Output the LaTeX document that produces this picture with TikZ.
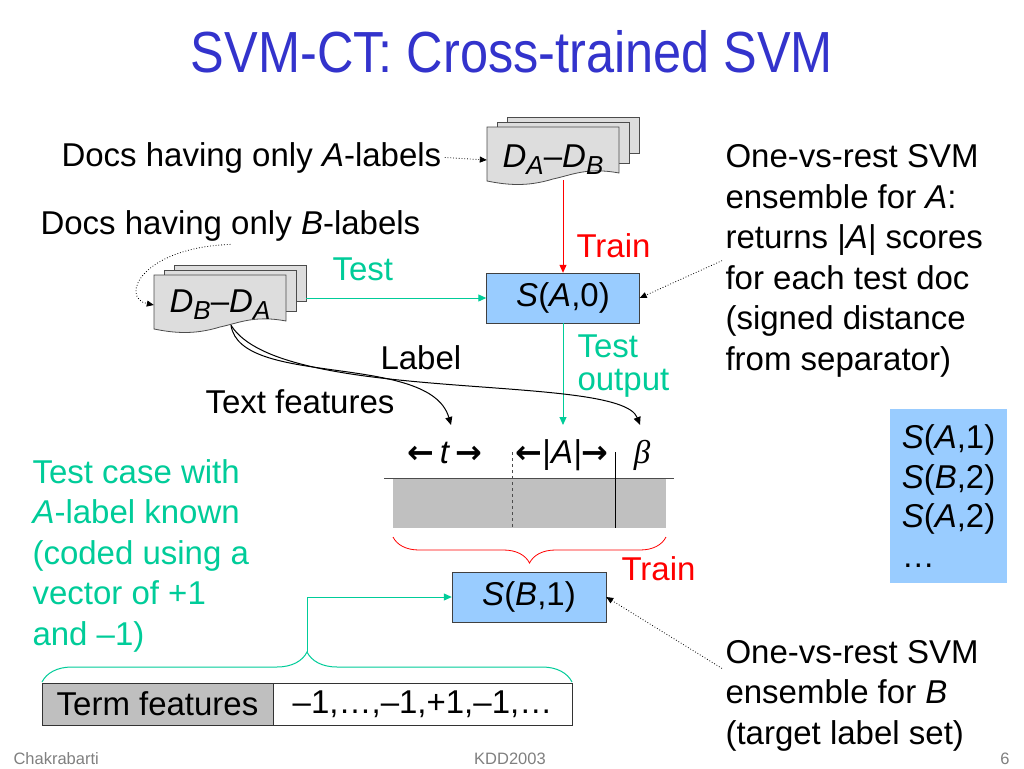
\documentclass[tikz,border=0pt]{standalone}
\usepackage{fontspec}
\setmainfont{Liberation Sans}
\newfontfamily\titlefont[FakeStretch=0.87]{Liberation Sans}
\newfontfamily\arrowfont{DejaVu Sans}
\newfontfamily\greekfont{Liberation Serif}
\usetikzlibrary{calc,arrows.meta,decorations.pathreplacing}

\definecolor{titleblue}{HTML}{3333CC}
\definecolor{testgreen}{HTML}{00CC99}
\definecolor{trainred}{HTML}{FF0000}
\definecolor{svmblue}{HTML}{99CCFF}
\definecolor{sheetgray}{HTML}{DDDDDD}
\definecolor{bargray}{HTML}{C0C0C0}
\definecolor{footgray}{HTML}{808080}

\newcommand{\lowsub}[1]{\raisebox{-7pt}{\fontsize{26}{26}\selectfont\textit{#1}}}
\newcommand{\harrow}[1]{{\arrowfont\bfseries\fontsize{32}{32}\selectfont#1}}
% three sheets, #1,#2 = top left corner of the front one
\newcommand{\docstack}[2]{%
  \foreach \sh in {2,1}
    \draw[sheet] ({#1+10*\sh},{#2-5*\sh}) rectangle ++(132,{46-5*\sh});
  \draw[sheet] (#1,#2) -- ({#1+132},#2) -- ({#1+132},{#2+46})
    .. controls ({#1+100},{#2+40}) and ({#1+85},{#2+48}) .. ({#1+66},{#2+52})
    .. controls ({#1+40},{#2+60}) and ({#1+20},{#2+58}) .. (#1,{#2+54}) -- cycle;}

\tikzset{
  lbl/.style={font=\fontsize{33}{40.5}\selectfont},
  txt/.style={lbl, align=left},
  sheet/.style={draw=black!70, fill=sheetgray, line width=0.8pt},
  docnode/.style={minimum width=132pt, minimum height=40pt, font=\fontsize{33}{40}\selectfont},
  svmbox/.style={draw=black!75, fill=svmblue, minimum width=153pt, minimum height=50pt, font=\fontsize{33}{40}\selectfont},
  cell/.style={draw=black!80, minimum height=42pt, font=\fontsize{33}{40}\selectfont},
  flow/.style={line width=1pt, -{Triangle[length=8pt,width=7pt]}},
  note/.style={line width=0.8pt, dotted, -{Triangle[length=7pt,width=6pt]}},
  foot/.style={font=\fontsize{16.5}{16.5}\selectfont, text=footgray}
}

\begin{document}
\begin{tikzpicture}[x=1pt,y=-1pt]
    \fill[white] (0,0) rectangle (1024,768);
    \useasboundingbox (0,0) rectangle (1024,768);
    \node[font=\titlefont\fontsize{58}{58}\selectfont, text=titleblue, anchor=base] (title) at (512,72) {SVM-CT: Cross-trained SVM};

    % document stacks
    \docstack{487}{127}
    \docstack{154}{275}
    \node[docnode] (dab) at (553,160) {\textit{D}\lowsub{A}--\textit{D}\lowsub{B}};
    \node[docnode] (dba) at (220,305) {\textit{D}\lowsub{B}--\textit{D}\lowsub{A}};

    % classifiers
    \node[svmbox] (sa0) at (563,298) {\textit{S}(\textit{A},0)};
    \node[svmbox, minimum width=154pt] (sb1) at (529,597) {\textit{S}(\textit{B},1)};
    \node[fill=svmblue, minimum width=117pt, minimum height=174pt, align=left, font=\fontsize{33}{39.5}\selectfont] (queue) at (948.5,496) {\textit{S}(\textit{A},1)\\\textit{S}(\textit{B},2)\\\textit{S}(\textit{A},2)\\\dots};

    % texts (base = last line)
    \node[lbl, anchor=base west] (docsA) at (58,166) {Docs having only \textit{A}-labels};
    \node[lbl, anchor=base west] (docsB) at (37,234) {Docs having only \textit{B}-labels};
    \node[txt, anchor=base west] (svmA) at (722,370) {One-vs-rest SVM\\ensemble for \textit{A}:\\returns |\textit{A}| scores\\for each test doc\\(signed distance\\from separator)};
    \node[txt, anchor=base west] (svmB) at (722,744) {One-vs-rest SVM\\ensemble for \textit{B}\\(target label set)};
    \node[txt, text=testgreen, anchor=base west] (testcase) at (29,645) {Test case with\\\textit{A}-label known\\(coded using a\\vector of +1\\and --1)};
    \node[lbl, text=trainred, anchor=base west] (trainA) at (573,257) {Train};
    \node[lbl, text=testgreen, anchor=base west] (testA) at (329,280) {Test};
    \node[txt, text=testgreen, anchor=base west, font=\fontsize{33}{33}\selectfont] (testout) at (574,390) {Test\\output};
    \node[lbl, anchor=base west] (labeltxt) at (377,369) {Label};
    \node[lbl, anchor=base west] (textfeat) at (202,413) {Text features};
    \node[lbl, text=trainred, anchor=base west] (trainB) at (618,580) {Train};

    % training vector
    \node[lbl, anchor=base] (tpart) at (445,463) {\harrow{←}\,\textit{t}\,\harrow{→}};
    \node[lbl, anchor=base] (apart) at (562,463) {\harrow{←}|\textit{A|}\harrow{→}};
    \node[lbl, anchor=base] (bpart) at (642,463) {\greekfont\itshape β};
    \fill[bargray] (393,478) rectangle (666,528);
    \draw[line width=1pt, black!70] (384,478) -- (674,478);
    \draw[dashed, black!70, line width=0.8pt] (512,452) -- (512,528);
    \draw[line width=0.8pt] (615,452) -- (615,528);
    \draw[trainred, line width=0.8pt, decorate, decoration={brace, amplitude=26pt, mirror}] (393,537) -- (666,537);

    % test vector
    \draw[testgreen, line width=1pt, decorate, decoration={brace, amplitude=30pt}] (42,682) -- (572,682);
    \node[cell, fill=black!25, minimum width=231pt] (termcell) at (157.5,704) {Term features};
    \node[cell, minimum width=299pt] (valcell) at (422.5,704) {--1,\dots,--1,+1,--1,\dots};

    % footer
    \node[foot, anchor=base west] (author) at (10,764) {Chakrabarti};
    \node[foot, anchor=base] (venue) at (510,764) {KDD2003};
    \node[foot, anchor=base east] (page) at (1013,764) {6};

    % connectors
    \coordinate (stackright) at ([xshift=20pt]dba.east);
    \coordinate (dbafoot) at ([xshift=11pt]dba.south);
    \coordinate (outin) at (563,425);
    \coordinate (tin) at (451,425);
    \coordinate (bin) at (640,425);
    \coordinate (gtip) at (307,652);
    \coordinate (svmBfoot) at ($(svmB.west)+(0,-27)$);
    \draw[flow, trainred] (sa0.north |- dab.south) -- (sa0.north);
    \draw[flow, testgreen] (stackright |- sa0.west) -- (sa0.west);
    \draw[flow, testgreen] (sa0.south) -- (outin);
    \draw[flow] (dbafoot) .. controls (240,388) and (430,352) .. (tin);
    \draw[flow] (dbafoot) .. controls (280,405) and (620,372) .. (bin);
    \draw[flow, testgreen] (gtip) |- (sb1.west);
    \draw[note] (docsA.east) -- (dab.west);
    \draw[note] (docsB.south) .. controls (140,248) and (120,298) .. (dba.west);
    \draw[note] (svmA.west) -- (sa0.east);
    \draw[note] (svmBfoot) -- (sb1.east);
\end{tikzpicture}
\end{document}
